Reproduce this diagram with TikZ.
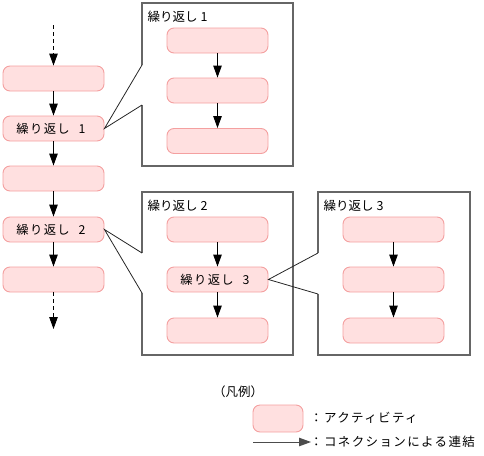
\documentclass[tikz,border=0pt]{standalone}
\usepackage{fontspec}
\setmainfont{Noto Sans CJK JP}
\newfontfamily\spacedfont[LetterSpace=11]{Noto Sans CJK JP}
\usetikzlibrary{arrows.meta}
\definecolor{actfill}{HTML}{FFE0E0}
\definecolor{actborder}{HTML}{F4A0A0}
\definecolor{framegray}{HTML}{666666}
\begin{document}
\begin{tikzpicture}[x=1pt,y=-1pt,
  act/.style={draw=actborder, fill=actfill, rounded corners=7pt, minimum width=101pt, minimum height=25pt, inner sep=0pt, line width=0.9pt, font=\spacedfont\fontsize{12.3}{13}\selectfont},
  flow/.style={-{Triangle[length=12pt,width=8.5pt]}, line width=0.9pt},
  dflow/.style={flow, dash pattern=on 4pt off 3pt},
  frm/.style={draw=framegray, line width=1.3pt},
  callout/.style={draw=black!85, line width=0.8pt},
  lbl/.style={anchor=west, inner sep=0pt, font=\fontsize{12.5}{13}\selectfont},
  leg/.style={anchor=west, inner sep=0pt, font=\spacedfont\fontsize{12.5}{13}\selectfont}]
\useasboundingbox (0,0) rectangle (484,455);

% main column
\coordinate (top) at (53.5,25);
\coordinate (bot) at (53.5,329);
\node[act] (a1) at (53.5,78.5) {};
\node[act] (a2) at (53.5,128.5) {繰り返し\hspace{9pt}1\hspace*{5pt}};
\node[act] (a3) at (53.5,178.5) {};
\node[act] (a4) at (53.5,229.5) {繰り返し\hspace{9pt}2\hspace*{5pt}};
\node[act] (a5) at (53.5,279.5) {};
\draw[dflow] (top) -- (a1);
\draw[flow] (a1) -- (a2);
\draw[flow] (a2) -- (a3);
\draw[flow] (a3) -- (a4);
\draw[flow] (a4) -- (a5);
\draw[dflow] (a5) -- (bot);

% frame 1
\coordinate (f1a) at (142,65);
\coordinate (f1b) at (142,105);
\draw[frm] (f1a) -- (142,3) -- (293,3) -- (293,166) -- (142,166) -- (f1b);
\node[lbl] (l1) at (147.5,16.5) {繰り返し 1};
\node[act] (b1) at (217.5,40.5) {};
\node[act] (b2) at (217.5,90.5) {};
\node[act] (b3) at (217.5,141) {};
\draw[flow] (b1) -- (b2);
\draw[flow] (b2) -- (b3);
\draw[callout] (f1a) -- (a2.east) -- (f1b);

% frame 2
\coordinate (f2a) at (142,253);
\coordinate (f2b) at (142,293);
\draw[frm] (f2a) -- (142,192) -- (293,192) -- (293,355) -- (142,355) -- (f2b);
\node[lbl] (l2) at (147.5,205.5) {繰り返し 2};
\node[act] (c1) at (217.5,229.5) {};
\node[act] (c2) at (217.5,279.5) {繰り返し\hspace{9pt}3\hspace*{5pt}};
\node[act] (c3) at (217.5,330.5) {};
\draw[flow] (c1) -- (c2);
\draw[flow] (c2) -- (c3);
\draw[callout] (f2a) -- (a4.east) -- (f2b);

% frame 3
\coordinate (f3a) at (318,253);
\coordinate (f3b) at (318,294);
\draw[frm] (f3a) -- (318,192) -- (470,192) -- (470,355) -- (318,355) -- (f3b);
\node[lbl] (l3) at (323.5,205.5) {繰り返し 3};
\node[act] (d1) at (393.5,229.5) {};
\node[act] (d2) at (393.5,279.5) {};
\node[act] (d3) at (393.5,330.5) {};
\draw[flow] (d1) -- (d2);
\draw[flow] (d2) -- (d3);
\draw[callout] (f3a) -- (c2.east) -- (f3b);

% legend
\node[lbl] (lg) at (213,392) {（凡例）};
\node[act, minimum width=50pt, minimum height=27pt] (la) at (278,418.5) {};
\node[leg] (lat) at (310,418) {：アクティビティ};
\coordinate (ls) at (253,442);
\coordinate (le) at (311,442);
\draw[flow, draw=black!70] (ls) -- (le);
\node[leg] (lct) at (310,442) {：コネクションによる連結};
\end{tikzpicture}
\end{document}
